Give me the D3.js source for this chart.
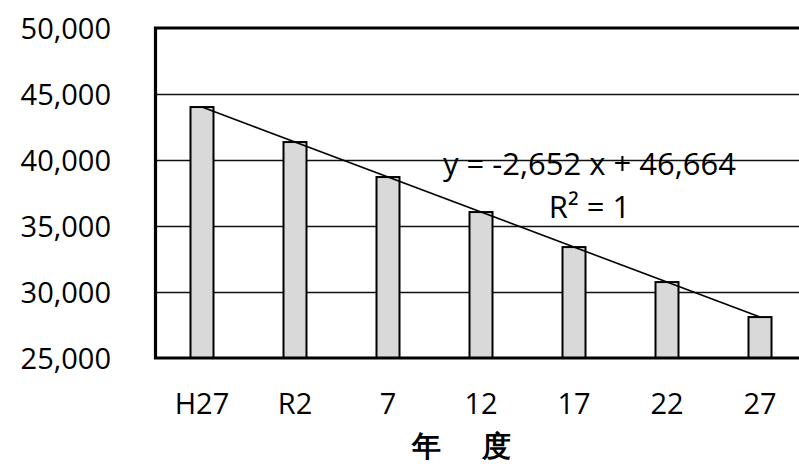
<!DOCTYPE html>
<html>
<head>
<meta charset="utf-8">
<script src="https://cdn.jsdelivr.net/npm/d3@7/dist/d3.min.js"></script>
<style>
  html, body { margin: 0; padding: 0; background: #fff; }
  svg { display: block; }
  text { font-family: "Open Sans", "Noto Sans", sans-serif; fill: #000; }
</style>
</head>
<body>
<svg id="chart" width="799" height="464"></svg>
<script>
// Population by fiscal year (projection)
const categories = ["H27", "R2", "7", "12", "17", "22", "27"];
const values = [44012, 41360, 38708, 36056, 33404, 30752, 28100];
const yTicks = [25000, 30000, 35000, 40000, 45000, 50000];
const trendSlope = -2652;
const trendIntercept = 46664;
const trendR2 = 1;
const xTitle = "年　度";

const svg = d3.select("#chart");

const plot = { left: 155.5, top: 28, bottom: 358, step: 93, barW: 23 };
const plotRight = plot.left + categories.length * plot.step;

const x = d3.scaleBand()
  .domain(categories)
  .range([plot.left, plotRight])
  .paddingInner((plot.step - plot.barW) / plot.step)
  .paddingOuter((plot.step - plot.barW) / plot.step / 2);

const y = d3.scaleLinear()
  .domain([25000, 50000])
  .range([plot.bottom, plot.top]);

// thousands separator with a plain hyphen for negatives
const fmt = d3.formatLocale({ decimal: ".", thousands: ",", grouping: [3], currency: ["", ""], minus: "-" }).format(",");

// horizontal gridlines
svg.append("g")
  .selectAll("line")
  .data(yTicks.slice(1, -1))
  .join("line")
  .attr("x1", plot.left)
  .attr("x2", plotRight)
  .attr("y1", d => y(d) + 0.5)
  .attr("y2", d => y(d) + 0.5)
  .attr("stroke", "#111")
  .attr("stroke-width", 1.3);

// y axis labels
const yAxis = d3.axisLeft(y).tickValues(yTicks).tickFormat(fmt).tickSize(0).tickPadding(0);
const gy = svg.append("g").attr("transform", "translate(111,0)").call(yAxis);
gy.select(".domain").remove();
gy.selectAll("text")
  .attr("font-family", "Open Sans")
  .attr("font-size", 29)
  .attr("dy", "0.36em")
  .attr("fill", "#000");

// bars
svg.append("g")
  .selectAll("rect")
  .data(values)
  .join("rect")
  .attr("x", (d, i) => x(categories[i]))
  .attr("width", x.bandwidth())
  .attr("y", d => y(d))
  .attr("height", d => y(25000) - y(d))
  .attr("fill", "#d9d9d9")
  .attr("stroke", "#000")
  .attr("stroke-width", 2);

// plot frame (top, left, bottom)
svg.append("path")
  .attr("d", `M${plotRight + 10},${plot.top} H${plot.left} V${plot.bottom} H${plotRight + 10}`)
  .attr("fill", "none")
  .attr("stroke", "#000")
  .attr("stroke-width", 3.2);

// linear trend line across the bar centres
const xc = c => x(c) + x.bandwidth() / 2;
const trend = i => trendSlope * (i + 1) + trendIntercept;
const last = categories.length - 1;
svg.append("line")
  .attr("x1", xc(categories[0]))
  .attr("y1", y(trend(0)))
  .attr("x2", xc(categories[last]))
  .attr("y2", y(trend(last)))
  .attr("stroke", "#000")
  .attr("stroke-width", 1.6);

// x axis labels
const xAxis = d3.axisBottom(x).tickSize(0).tickPadding(0);
const gx = svg.append("g").attr("transform", "translate(0,414)").call(xAxis);
gx.select(".domain").remove();
gx.selectAll("text")
  .attr("font-family", "Open Sans")
  .attr("font-size", 29)
  .attr("dy", 0)
  .attr("fill", "#000");

// trend equation
svg.append("text")
  .attr("x", 589.5)
  .attr("y", 175)
  .attr("text-anchor", "middle")
  .attr("font-size", 31)
  .text(`y = ${fmt(trendSlope)} x + ${fmt(trendIntercept)}`);
svg.append("text")
  .attr("x", 589.5)
  .attr("y", 218)
  .attr("text-anchor", "middle")
  .attr("font-size", 31)
  .text(`R² = ${trendR2}`);

// x axis title
svg.append("text")
  .attr("x", 412)
  .attr("y", 456)
  .attr("font-family", "Noto Sans CJK JP")
  .attr("font-weight", "bold")
  .attr("font-size", 29)
  .attr("letter-spacing", 6)
  .text(xTitle);
</script>
</body>
</html>
